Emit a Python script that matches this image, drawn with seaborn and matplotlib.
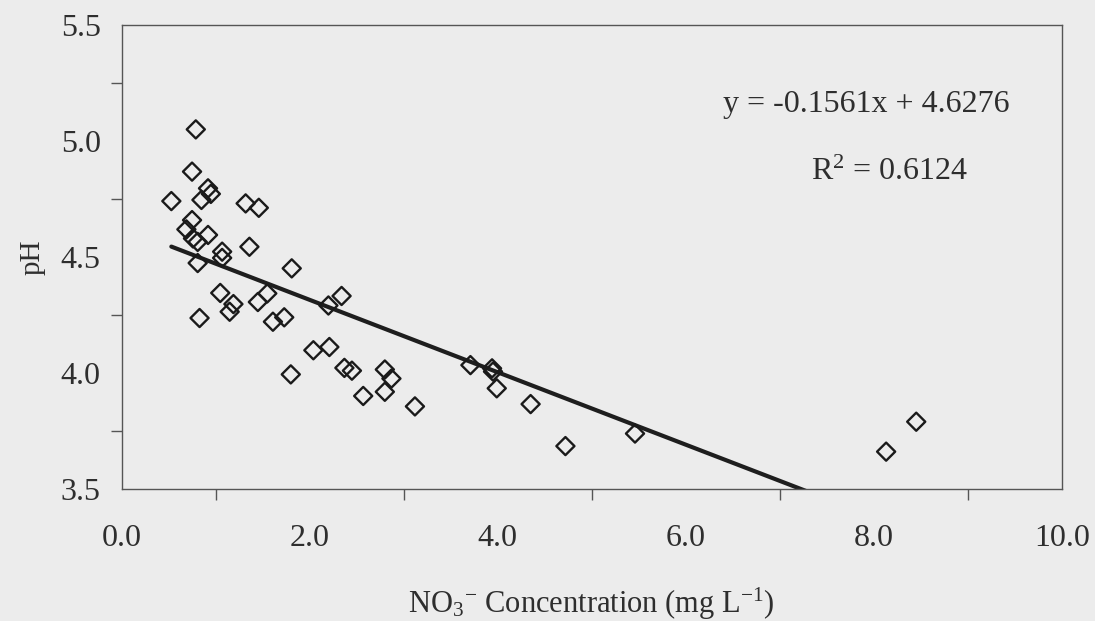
import numpy as np
import pandas as pd
import matplotlib
matplotlib.use("Agg")
import matplotlib.pyplot as plt
from matplotlib.ticker import MultipleLocator, FixedLocator
import seaborn as sns

# ---- data ----
no3 = [0.53, 0.79, 0.75, 0.92, 0.95, 0.85, 0.75, 0.69, 0.76, 0.81,
       0.92, 0.81, 0.83, 1.07, 1.07, 1.05, 1.19, 1.15, 1.32, 1.46,
       1.36, 1.45, 1.55, 1.61, 1.73, 1.81, 1.80, 2.04, 2.21, 2.20,
       2.34, 2.37, 2.45, 2.57, 2.80, 2.80, 2.87, 3.12, 3.71, 3.94,
       3.95, 3.99, 4.35, 4.72, 5.46, 8.13, 8.45]
ph = [4.741, 5.050, 4.868, 4.796, 4.772, 4.746, 4.659, 4.619, 4.580, 4.565,
      4.595, 4.474, 4.237, 4.523, 4.496, 4.345, 4.297, 4.264, 4.731, 4.712,
      4.544, 4.306, 4.343, 4.221, 4.240, 4.451, 3.994, 4.098, 4.112, 4.291,
      4.332, 4.022, 4.010, 3.901, 3.919, 4.015, 3.976, 3.856, 4.034, 4.020,
      4.006, 3.934, 3.866, 3.685, 3.739, 3.661, 3.790]
slope = -0.1561
intercept = 4.6276
r_squared = 0.6124
x_ticks = [0.0, 2.0, 4.0, 6.0, 8.0, 10.0]
y_ticks = [3.5, 4.0, 4.5, 5.0, 5.5]

df = pd.DataFrame({"x": no3, "y": ph})
fit_x = [min(no3), max(no3)]
fit = pd.DataFrame({"x": fit_x, "y": [slope * v + intercept for v in fit_x]})

sns.set_theme(style="white")
plt.rcParams["font.family"] = ["Liberation Serif", "DejaVu Serif"]
plt.rcParams["mathtext.fontset"] = "custom"
plt.rcParams["mathtext.rm"] = "Liberation Serif"
plt.rcParams["mathtext.it"] = "Liberation Serif:italic"

bg = "#ececec"
txt = "#2e2e2e"
spine_c = "#555555"

fig = plt.figure(figsize=(10.95, 6.21), dpi=100, facecolor=bg)
ax = fig.add_axes([121.5 / 1095, 1 - 489 / 621, 940.5 / 1095, 464 / 621])
ax.set_facecolor(bg)

sns.lineplot(data=fit, x="x", y="y", ax=ax, color="#1e1e1e", linewidth=3.0,
             zorder=2, clip_on=True)
sns.scatterplot(data=df, x="x", y="y", ax=ax, marker="D", s=85,
                facecolors="none", edgecolor="#1a1a1a", linewidth=1.7,
                zorder=3, clip_on=False)

ax.set_xlim(0, 10)
ax.set_ylim(3.5, 5.5)
ax.xaxis.set_major_locator(FixedLocator(x_ticks))
ax.xaxis.set_minor_locator(MultipleLocator(1.0))
ax.yaxis.set_major_locator(FixedLocator(y_ticks))
ax.yaxis.set_minor_locator(MultipleLocator(0.25))
ax.set_xticklabels([f"{v:.1f}" for v in x_ticks])
ax.set_yticklabels([f"{v:.1f}" for v in y_ticks])

ax.tick_params(axis="both", which="both", direction="out", length=8,
               width=1, color=spine_c, labelcolor=txt, labelsize=23)
ax.tick_params(axis="x", which="major", pad=17)
ax.tick_params(axis="y", which="major", pad=7)
ax.tick_params(which="minor", left=True, bottom=True)

for s in ax.spines.values():
    s.set_visible(True)
    s.set_color(spine_c)
    s.set_linewidth(1.0)

ax.set_xlabel(r"NO$_{\mathrm{3}}$$^{\mathrm{-}}$ Concentration (mg L$^{\mathrm{-1}}$)",
              fontsize=22, color=txt, labelpad=24)
ax.set_ylabel("pH", fontsize=21, color=txt, labelpad=11)

ax.text(0.7916, 0.8125, f"y = {slope:.4f}x + {intercept:.4f}", transform=ax.transAxes,
        ha="center", va="baseline", fontsize=23, color=txt)
ax.text(0.8166, 0.666, r"R$^{\mathrm{2}}$" + f" = {r_squared:.4f}", transform=ax.transAxes,
        ha="center", va="baseline", fontsize=23, color=txt)

fig.savefig("out.png", dpi=100, facecolor=bg)
